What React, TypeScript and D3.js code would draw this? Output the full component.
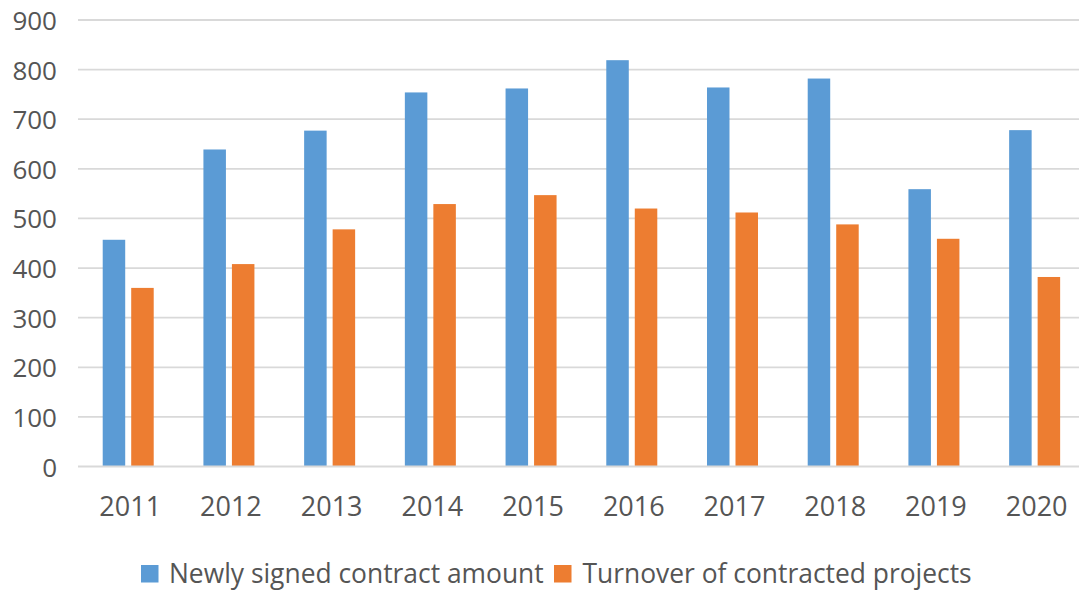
import React from "react";
import * as d3 from "d3";

const years = ["2011", "2012", "2013", "2014", "2015", "2016", "2017", "2018", "2019", "2020"];
const newlySigned = [457, 639, 677, 754, 762, 819, 764, 782, 559, 678];
const turnover = [360, 408, 478, 529, 547, 520, 512, 488, 459, 382];
const yTicks = [0, 100, 200, 300, 400, 500, 600, 700, 800, 900];
const seriesNames = ["Newly signed contract amount", "Turnover of contracted projects"];
const colors = ["#5b9bd5", "#ed7d31"];

const W = 1079;
const H = 592;
const FONT = "'Open Sans', 'Liberation Sans', sans-serif";
const TEXT = "#555555";

export default function App() {
  const x = d3.scaleBand<string>().domain(years).range([77.85, 1085]).padding(0);
  const y = d3.scaleLinear().domain([0, 900]).range([466.5, 20]);
  const barW = 22.5;
  const gap = 6;

  return (
    <svg
      width={W}
      height={H}
      style={{ position: "absolute", left: 0, top: 0, background: "#fff" }}
      fontFamily={FONT}
    >
      <rect x={0} y={0} width={W} height={H} fill="#fff" />
      {yTicks.map((t) => (
        <g key={t}>
          {t > 0 && (
            <line x1={78} x2={W} y1={y(t)} y2={y(t)} stroke="#d9d9d9" strokeWidth={1.8} />
          )}
          <text
            x={57}
            y={y(t)}
            textAnchor="end"
            dominantBaseline="central"
            fontSize={26}
            fill={TEXT}
          >
            {t}
          </text>
        </g>
      ))}
      {years.map((yr, i) => {
        const c = (x(yr) as number) + x.bandwidth() / 2;
        return (
          <g key={yr}>
            <rect
              x={c - gap / 2 - barW}
              y={y(newlySigned[i])}
              width={barW}
              height={y(0) - y(newlySigned[i])}
              fill={colors[0]}
            />
            <rect
              x={c + gap / 2}
              y={y(turnover[i])}
              width={barW}
              height={y(0) - y(turnover[i])}
              fill={colors[1]}
            />
            <text x={c + 2} y={516} textAnchor="middle" fontSize={27} fill={TEXT}>
              {yr}
            </text>
          </g>
        );
      })}
      <line x1={78} x2={W} y1={y(0)} y2={y(0)} stroke="#d9d9d9" strokeWidth={1.8} />
      <g>
        <rect x={141} y={565} width={17.5} height={17.5} fill={colors[0]} />
        <text x={169} y={583} fontSize={26.4} fill={TEXT}>
          {seriesNames[0]}
        </text>
        <rect x={554} y={565} width={17.5} height={17.5} fill={colors[1]} />
        <text x={582.5} y={583} fontSize={26.4} fill={TEXT}>
          {seriesNames[1]}
        </text>
      </g>
    </svg>
  );
}
